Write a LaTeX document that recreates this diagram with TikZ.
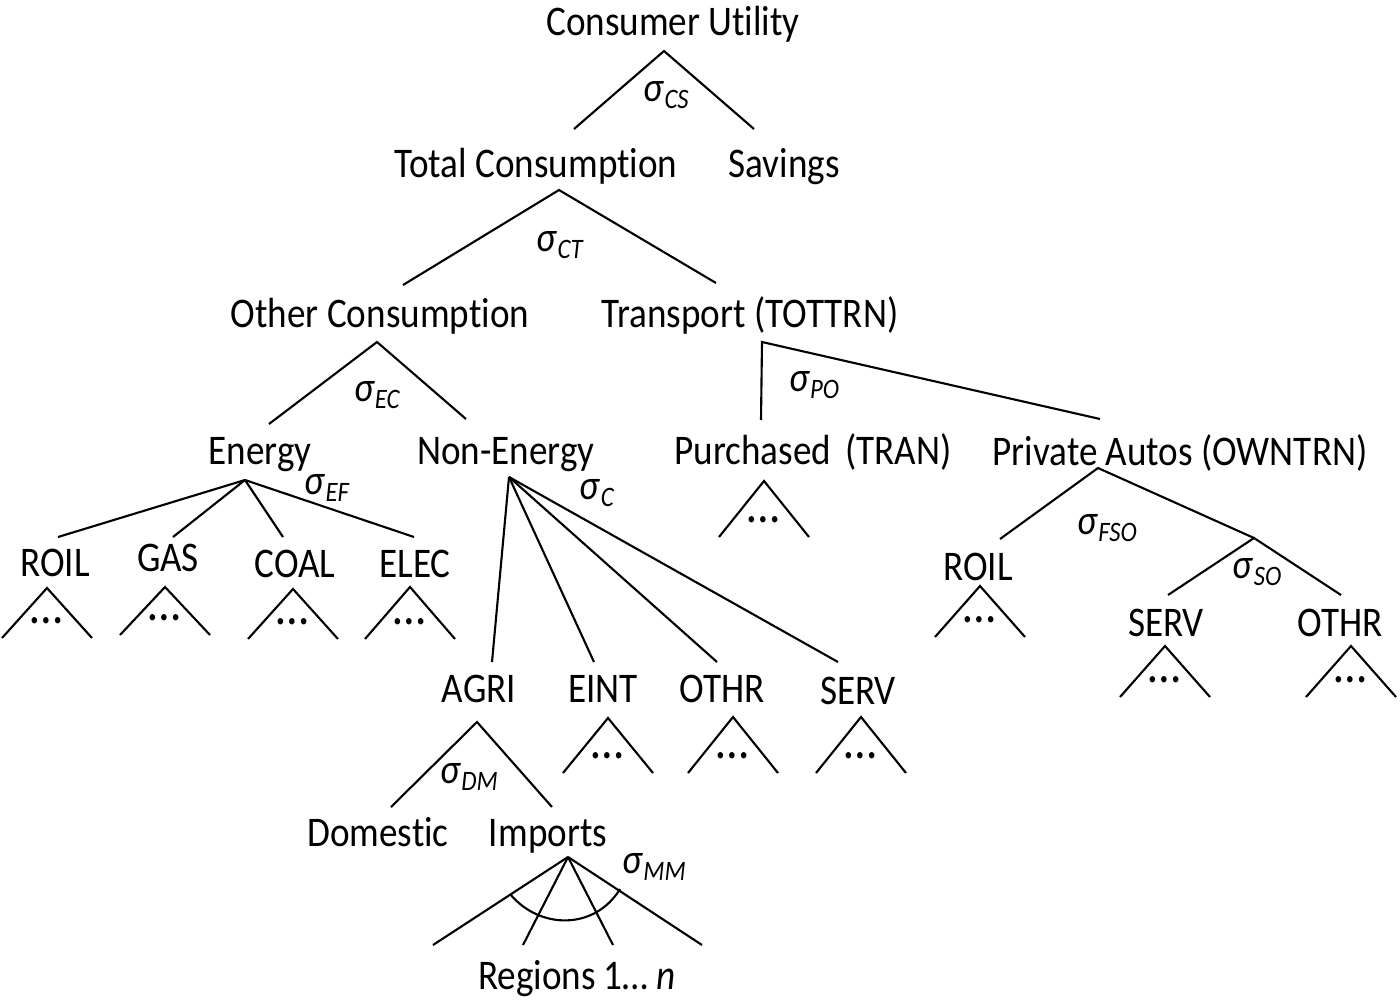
\documentclass[tikz,border=0pt]{standalone}
\usepackage{fontspec}
\setmainfont{Carlito}[FakeStretch=0.88, Ligatures=NoCommon]
\newcommand{\sig}[1]{\textit{σ}\textsubscript{\textit{#1}}}
\begin{document}
\begin{tikzpicture}[x=0.01cm, y=-0.01cm, line width=0.6pt,
    font=\fontsize{12}{14}\selectfont,
    lbl/.style={inner sep=0pt, text height=8pt, text depth=0pt},
    elas/.style={inner sep=0pt}]
    \useasboundingbox (0,0) rectangle (1400,1000);

    % text of the tree
    \node[lbl] (cu) at (673,21) {Consumer Utility};
    \node[lbl] (tc) at (536,163) {Total Consumption};
    \node[lbl] (sav) at (784,163) {Savings};
    \node[lbl] (oc) at (380,313) {Other Consumption};
    \node[lbl] (tr) at (750,313) {Transport (TOTTRN)};
    \node[lbl] (en) at (260,450) {Energy};
    \node[lbl] (ne) at (506,450) {Non-Energy};
    \node[lbl] (pu) at (813,450) {Purchased\hspace{1.7pt} (TRAN)};
    \node[lbl] (pa) at (1180,451) {Private Autos (OWNTRN)};
    \node[lbl] (roil) at (55,562) {ROIL};
    \node[lbl] (gas) at (168,557) {GAS};
    \node[lbl] (coal) at (295,563) {COAL};
    \node[lbl] (elec) at (415,563) {ELEC};
    \node[lbl] (roilb) at (978,566) {ROIL};
    \node[lbl] (servb) at (1166,622) {SERV};
    \node[lbl] (othrb) at (1340,622) {OTHR};
    \node[lbl] (agri) at (479,688) {AGRI};
    \node[lbl] (eint) at (603,688) {EINT};
    \node[lbl] (othr) at (722,688) {OTHR};
    \node[lbl] (serv) at (858,690) {SERV};
    \node[lbl] (dom) at (378,832) {Domestic};
    \node[lbl] (imp) at (548,832) {Imports};
    \node[lbl] (reg) at (577,975) {Regions 1\dots\ \textit{n}};

    % elasticities
    \node[elas] (sCS) at (667,95) {\sig{CS}};
    \node[elas] (sCT) at (561,245) {\sig{CT}};
    \node[elas] (sEC) at (378,395) {\sig{EC}};
    \node[elas] (sEF) at (328,488) {\sig{EF}};
    \node[elas] (sPO) at (815,385) {\sig{PO}};
    \node[elas] (sC) at (598,493) {\sig{C}};
    \node[elas] (sFSO) at (1108,528) {\sig{FSO}};
    \node[elas] (sSO) at (1258,572) {\sig{SO}};
    \node[elas] (sDM) at (470,777) {\sig{DM}};
    \node[elas] (sMM) at (655,867) {\sig{MM}};

    % branch points
    \coordinate (tCS) at (664,51);
    \coordinate (tCT) at (559,190);
    \coordinate (tEC) at (377,342);
    \coordinate (tEF) at (245,480);
    \coordinate (tC) at (509,477);
    \coordinate (tPO) at (762,342);
    \coordinate (tFSO) at (1098,468);
    \coordinate (tSO) at (1254,538);
    \coordinate (tDM) at (477,722);
    \coordinate (tMM) at (568,857);

    \draw (574,129) -- (tCS) -- (754,129);
    \draw (403,285) -- (tCT) -- (716,283);
    \draw (269,424) -- (tEC) -- (466,419);
    \draw (761,420) -- (tPO) -- (1100,419);
    \foreach \x in {58,173,283,414}
        \draw (tEF) -- (\x,537);
    \foreach \x in {492,594,717,838}
        \draw (tC) -- (\x,662);
    \draw (1000,539) -- (tFSO) -- (tSO);
    \draw (1168,595) -- (tSO) -- (1341,595);
    \draw (391,807) -- (tDM) -- (552,807);
    \foreach \x in {433,523,613,702}
        \draw (tMM) -- (\x,945);
    \draw (510,894) .. controls (540,930) and (595,930) .. (620,889);

    % collapsed subtrees
    \foreach \n/\x/\y/\h in {a/47/638/50, b/165/635/48, c/293/639/50, d/410/639/52,
        e/764/537/56, f/980/637/51, g/1165/697/51, h/1351/697/51,
        i/608/773/55, j/733/773/56, k/861/773/56}
    {
        \draw (\x-45,\y) -- (\x,\y-\h) -- (\x+45,\y);
        \node[inner sep=0pt, font=\fontsize{15}{16}\selectfont] (dots\n) at (\x,\y-17) {\dots};
    }
\end{tikzpicture}
\end{document}
